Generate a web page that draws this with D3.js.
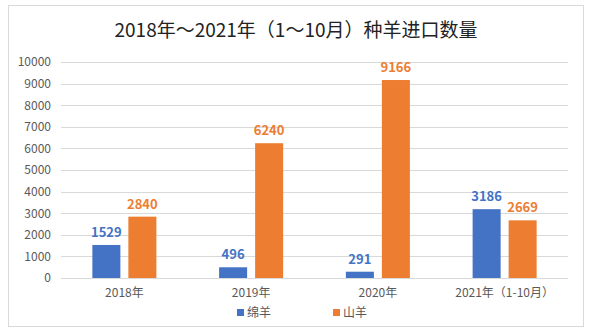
<!DOCTYPE html>
<html><head><meta charset="utf-8">
<script src="https://cdn.jsdelivr.net/npm/d3@7"></script>
<style>body{margin:0;background:#fff}</style>
</head><body>
<script>
const title = "2018年～2021年（1～10月）种羊进口数量";
const categories = ["2018年","2019年","2020年","2021年（1-10月）"];
const seriesNames = ["绵羊","山羊"];
const sheep = [1529, 496, 291, 3186];
const goats = [2840, 6240, 9166, 2669];
const yTicks = [0,1000,2000,3000,4000,5000,6000,7000,8000,9000,10000];
const colors = ["#4472C4","#ED7D31"];

const W=590,H=333;
const svg=d3.select("body").append("svg").attr("width",W).attr("height",H);
const font="'Noto Sans CJK SC','Noto Sans',sans-serif";
svg.append("rect").attr("x",8.5).attr("y",5.5).attr("width",575).attr("height",321)
  .attr("fill","#fff").attr("stroke","#d9d9d9");

svg.append("text").attr("x",296).attr("y",37).attr("text-anchor","middle")
  .attr("font-family",font).attr("font-size",19).attr("fill","#222").text(title);

const y=d3.scaleLinear().domain([0,10000]).range([278,62]);
const x0=d3.scaleBand().domain(categories).range([61,568]).padding(0);
const x1=d3.scaleBand().domain(seriesNames).range([0,x0.bandwidth()]).paddingInner(0.222).paddingOuter(0.871);

const g=svg.append("g");
g.selectAll("line.grid").data(yTicks).join("line").attr("class","grid")
  .attr("x1",61).attr("x2",568).attr("y1",d=>Math.round(y(d))+0.5).attr("y2",d=>Math.round(y(d))+0.5)
  .attr("stroke","#d9d9d9").attr("stroke-width",1);

const yAxis=d3.axisLeft(y).tickValues(yTicks).tickSize(0).tickPadding(10).tickFormat(d3.format("d"));
const ya=svg.append("g").attr("transform","translate(61,0)").call(yAxis);
ya.select(".domain").remove();
ya.selectAll("text").attr("font-family",font).attr("font-size",12).attr("fill","#595959");

const xAxis=d3.axisBottom(x0).tickSize(0).tickPadding(10);
const xa=svg.append("g").attr("transform","translate(0,278)").call(xAxis);
xa.select(".domain").remove();
xa.selectAll("text").attr("font-family",font).attr("font-size",12).attr("fill","#595959");

const data=categories.map((c,i)=>({cat:c,vals:[{s:seriesNames[0],v:sheep[i],c:colors[0]},{s:seriesNames[1],v:goats[i],c:colors[1]}]}));
const grp=svg.selectAll("g.cat").data(data).join("g").attr("class","cat")
  .attr("transform",d=>`translate(${x0(d.cat)},0)`);
grp.selectAll("rect").data(d=>d.vals).join("rect")
  .attr("x",d=>x1(d.s)).attr("width",x1.bandwidth())
  .attr("y",d=>y(d.v)).attr("height",d=>y(0)-y(d.v)).attr("fill",d=>d.c);
grp.selectAll("text").data(d=>d.vals).join("text")
  .attr("x",d=>x1(d.s)+x1.bandwidth()/2).attr("y",d=>y(d.v)-8)
  .attr("text-anchor","middle").attr("font-family",font).attr("font-size",13).attr("font-weight","bold")
  .attr("fill",d=>d.c).text(d=>d.v);

const leg=svg.append("g");
const legX=[237,333];
seriesNames.forEach((s,i)=>{
  leg.append("rect").attr("x",legX[i]).attr("y",309).attr("width",7).attr("height",7).attr("fill",colors[i]);
  leg.append("text").attr("x",legX[i]+10).attr("y",317).attr("font-family",font).attr("font-size",12)
    .attr("fill","#595959").text(s);
});
</script>
</body></html>
